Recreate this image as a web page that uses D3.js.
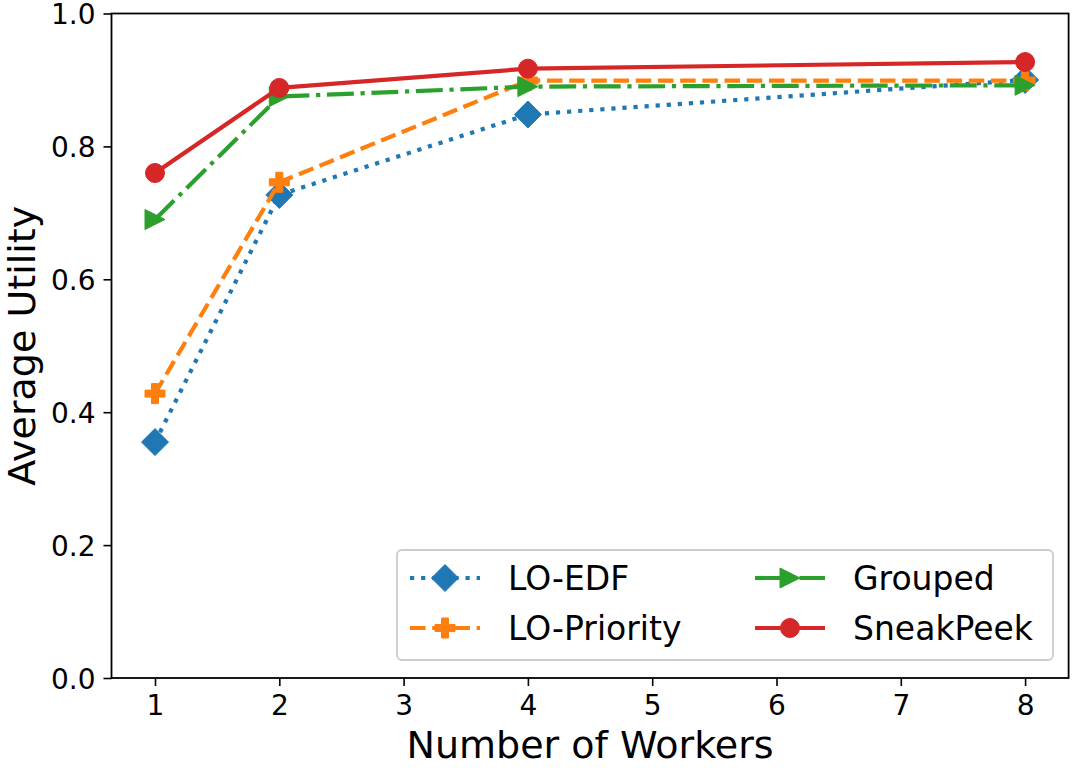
<!DOCTYPE html>
<html><head><meta charset="utf-8">
<script src="https://cdn.jsdelivr.net/npm/d3@7"></script>
<style>body{margin:0;background:#fff}svg{display:block}text{font-family:"DejaVu Sans",sans-serif}</style>
</head><body>
<svg id="c" width="1080" height="771"></svg>
<script>
const workers = [1, 2, 4, 8];
const loEdf = [0.355, 0.727, 0.848, 0.900];
const loPriority = [0.428, 0.746, 0.899, 0.899];
const grouped = [0.690, 0.875, 0.890, 0.892];
const sneakPeek = [0.760, 0.888, 0.917, 0.927];
const xTicks = [1, 2, 3, 4, 5, 6, 7, 8];
const yTicks = [0.0, 0.2, 0.4, 0.6, 0.8, 1.0];
const seriesNames = ["LO-EDF", "LO-Priority", "Grouped", "SneakPeek"];

const colors = ["#1f77b4", "#ff7f0e", "#2ca02c", "#d62728"];
const dashes = ["4.2,6.9", "15.5,6.7", "26.9,6.7,4.2,6.7", null];
const markers = ["diamond", "plus", "tri", "circle"];
const seriesVals = [loEdf, loPriority, grouped, sneakPeek];

const svg = d3.select("#c");
const L = 111.5, R = 1068.6, T = 13.5, B = 678;
const x = d3.scaleLinear().domain([0.65, 8.35]).range([L, R]);
const y = d3.scaleLinear().domain([0, 1]).range([B, T]);

function markerPath(type) {
  if (type === "diamond") { const s = 13.5; return `M0,${-s}L${s},0L0,${s}L${-s},0Z`; }
  if (type === "plus") { const a = 10, b = 3.5; return `M${-b},${-a}H${b}V${-b}H${a}V${b}H${b}V${a}H${-b}V${b}H${-a}V${-b}H${-b}Z`; }
  if (type === "tri") { const s = 10; return `M${s},0L${-s},${s}L${-s},${-s}Z`; }
  const r = 9.5; return `M${r},0A${r},${r} 0 1,1 ${-r},0A${r},${r} 0 1,1 ${r},0Z`;
}

// series
const line = d3.line().x((d, i) => x(workers[i])).y(d => y(d));
seriesVals.forEach((vals, k) => {
  const g = svg.append("g");
  g.append("path").attr("d", line(vals)).attr("fill", "none")
    .attr("stroke", colors[k]).attr("stroke-width", 4.2)
    .attr("stroke-dasharray", dashes[k]).attr("stroke-linejoin", "round")
    .attr("stroke-linecap", dashes[k] ? "butt" : "round");
  vals.forEach((v, i) => {
    g.append("path").attr("d", markerPath(markers[k]))
      .attr("transform", `translate(${x(workers[i])},${y(v)})`)
      .attr("fill", colors[k]).attr("stroke", colors[k]).attr("stroke-width", 1);
  });
});

// axes
const xAxis = d3.axisBottom(x).tickValues(xTicks).tickSize(8).tickPadding(8).tickFormat(d3.format("d"));
const yAxis = d3.axisLeft(y).tickValues(yTicks).tickSize(8).tickPadding(8).tickFormat(d3.format(".1f"));
const gx = svg.append("g").attr("transform", `translate(0,${B})`).call(xAxis);
const gy = svg.append("g").attr("transform", `translate(${L},0)`).call(yAxis);
[gx, gy].forEach(g => {
  g.select(".domain").remove();
  g.selectAll(".tick line").attr("stroke", "#000").attr("stroke-width", 1.6);
  g.selectAll(".tick text").attr("font-size", 28).attr("fill", "#000")
    .attr("font-family", "DejaVu Sans");
});
gx.selectAll(".tick text").attr("dy", "0.76em");
gy.selectAll(".tick text").attr("dy", "0.36em");

// frame
svg.append("rect").attr("x", L).attr("y", T).attr("width", R - L).attr("height", B - T)
  .attr("fill", "none").attr("stroke", "#000").attr("stroke-width", 1.8);

// axis labels
svg.append("text").attr("x", (L + R) / 2).attr("y", 758).attr("text-anchor", "middle")
  .attr("font-size", 38).text("Number of Workers");
svg.append("text").attr("transform", `translate(35,${(T + B) / 2}) rotate(-90)`)
  .attr("text-anchor", "middle").attr("font-size", 38).text("Average Utility");

// legend
const lg = svg.append("g");
lg.append("rect").attr("x", 397).attr("y", 550).attr("width", 656).attr("height", 110)
  .attr("rx", 5).attr("fill", "#fff").attr("fill-opacity", 0.8)
  .attr("stroke", "#cccccc").attr("stroke-width", 1.8);
const pos = [[410, 578], [410, 628], [755, 578], [755, 628]];
seriesNames.forEach((name, k) => {
  const [hx, hy] = pos[k];
  lg.append("line").attr("x1", hx).attr("x2", hx + 70).attr("y1", hy).attr("y2", hy)
    .attr("stroke", colors[k]).attr("stroke-width", 4.2)
    .attr("stroke-dasharray", dashes[k]);
  lg.append("path").attr("d", markerPath(markers[k]))
    .attr("transform", `translate(${hx + 35},${hy})`)
    .attr("fill", colors[k]).attr("stroke", colors[k]).attr("stroke-width", 1);
  lg.append("text").attr("x", hx + 98).attr("y", hy + 12).attr("font-size", 33).text(name);
});
</script>
</body></html>
